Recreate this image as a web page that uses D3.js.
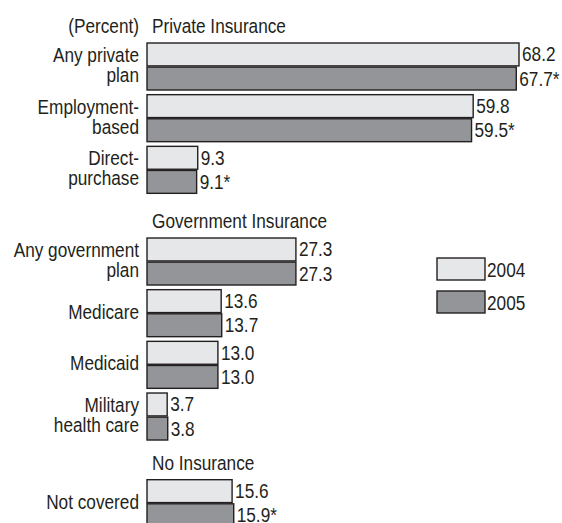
<!DOCTYPE html>
<html>
<head>
<meta charset="utf-8">
<script src="https://cdn.jsdelivr.net/npm/d3@7"></script>
<style>
  body { margin: 0; background: #fff; }
  text { font-family: "Liberation Sans", Arial, sans-serif; fill: #231f20; }
</style>
</head>
<body>
<div id="viz"></div>
<script>
// --- Data ---
const categories = ["Any private|plan", "Employment-|based", "Direct-|purchase",
  "Any government|plan", "Medicare", "Medicaid", "Military|health care", "Not covered"];
const sections = ["Private Insurance", "Government Insurance", "No Insurance"];
const sectionOf = [0, 0, 0, 1, 1, 1, 1, 2];
const years = ["2004", "2005"];
const values2004 = [68.2, 59.8, 9.3, 27.3, 13.6, 13.0, 3.7, 15.6];
const values2005 = [67.7, 59.5, 9.1, 27.3, 13.7, 13.0, 3.8, 15.9];
const flag2005 = [true, true, true, false, false, false, false, true]; // statistically different -> "*"

const width = 562, height = 523;
const fill = { "2004": "#e6e7e8", "2005": "#939598" };
const fontSize = 20.5;
const squeeze = 0.84; // no narrow face installed, so condense regular Liberation Sans

const rows = categories.map((c, i) => ({
  label: c.split("|"),
  section: sectionOf[i],
  bars: [
    { year: "2004", value: values2004[i], flag: false },
    { year: "2005", value: values2005[i], flag: flag2005[i] }
  ]
}));

// --- Layout ---
const top0 = 43, step = 51.67;
const sectionGap = [0, 40, 75];
const rowTop = (d, i) => top0 + i * step + sectionGap[d.section];

// put a text at (x, y) with the horizontal squeeze
const at = (x, y) => `translate(${x},${y}) scale(${squeeze},1)`;

const x = d3.scaleLinear()
  .domain([0, d3.max(values2004.concat(values2005))])
  .range([147, 519]);

const yInner = d3.scaleBand().domain(years).range([0, 47]).paddingInner(0.05);

const svg = d3.select("#viz").append("svg")
  .attr("width", width)
  .attr("height", height);

// section headers
const firstRow = sections.map((s, k) => sectionOf.indexOf(k));
svg.append("g").selectAll("text")
  .data(sections)
  .join("text")
  .attr("transform", (s, k) => at(152, rowTop(rows[firstRow[k]], firstRow[k]) - 10))
  .attr("font-size", fontSize)
  .text(d => d);

svg.append("text")
  .attr("transform", at(139, top0 - 10))
  .attr("text-anchor", "end")
  .attr("font-size", fontSize)
  .text("(Percent)");

const g = svg.append("g").selectAll("g")
  .data(rows)
  .join("g")
  .attr("transform", (d, i) => `translate(0,${rowTop(d, i)})`);

// category labels
g.selectAll("text.cat")
  .data(d => d.label.map((t, j) => ({ t, j, n: d.label.length })))
  .join("text")
  .attr("class", "cat")
  .attr("text-anchor", "end")
  .attr("font-size", fontSize)
  .attr("transform", d => at(139, 23.5 + (d.j - (d.n - 1) / 2) * 20 + 5.5))
  .text(d => d.t);

// bars
g.selectAll("rect")
  .data(d => d.bars)
  .join("rect")
  .attr("x", x(0))
  .attr("y", d => yInner(d.year))
  .attr("width", d => x(d.value) - x(0))
  .attr("height", yInner.bandwidth())
  .attr("fill", d => fill[d.year])
  .attr("stroke", "#231f20")
  .attr("stroke-width", 1.4);

// value labels
g.selectAll("text.val")
  .data(d => d.bars)
  .join("text")
  .attr("class", "val")
  .attr("transform", d => at(x(d.value) + 3, yInner(d.year) + yInner.bandwidth() / 2 + 7))
  .attr("font-size", fontSize)
  .text(d => d3.format(".1f")(d.value) + (d.flag ? "*" : ""));

// legend
const legend = svg.append("g")
  .attr("transform", "translate(437,258)")
  .selectAll("g")
  .data(years)
  .join("g")
  .attr("transform", (d, i) => `translate(0,${i * 33})`);

legend.append("rect")
  .attr("width", 48)
  .attr("height", 22)
  .attr("fill", d => fill[d])
  .attr("stroke", "#231f20")
  .attr("stroke-width", 1.4);

legend.append("text")
  .attr("transform", at(50, 18.5))
  .attr("font-size", fontSize)
  .text(d => d);
</script>
</body>
</html>
